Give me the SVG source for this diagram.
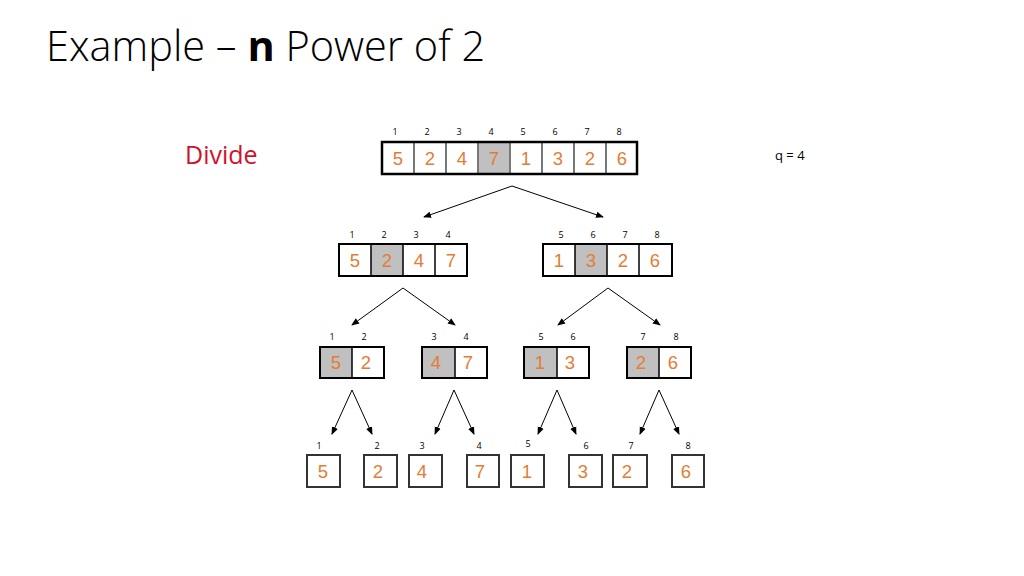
<svg xmlns="http://www.w3.org/2000/svg" width="1024" height="576" viewBox="0 0 1024 576">
<defs>
<marker id="ah" markerWidth="8" markerHeight="8" refX="7" refY="4" orient="auto" markerUnits="userSpaceOnUse">
<path d="M0,0.8 L8,4 L0,7.2 Z" fill="#000"/>
</marker>
<style>
.title{font-family:"Open Sans","Liberation Sans",sans-serif;font-weight:300;font-size:41.5px;fill:#000}
.tb{font-family:"Open Sans","Liberation Sans",sans-serif;font-weight:700}
.idx{font-family:"Open Sans","Liberation Sans",sans-serif;font-size:9px;fill:#000;text-anchor:middle}
.dg{font-family:"Liberation Sans",Arial,sans-serif;font-size:18.5px;fill:#E47C35;text-anchor:middle}
.gray{fill:#C0C0C0}
.outer{fill:none;stroke:#000;stroke-width:2}
.sq{fill:#fff;stroke:#333;stroke-width:2}
.conn line{stroke:#000;stroke-width:1;marker-end:url(#ah)}
</style>
</defs>
<rect width="1024" height="576" fill="#fff"/>
<g id="title"><text class="title" x="46" y="61">Example – <tspan class="tb">n</tspan> Power of 2</text></g>
<g id="divide"><text x="185" y="164" font-family="'Open Sans','Liberation Sans',sans-serif" font-size="25" fill="#D0112B">Divide</text></g>
<g id="q"><text x="775" y="160" font-family="'Open Sans','Liberation Sans',sans-serif" font-size="13" fill="#000">q = 4</text></g>

<g id="level0">
<rect x="382" y="142" width="255" height="32" fill="#fff"/>
<rect x="478" y="142" width="32" height="32" class="gray"/>
<g stroke="#777" stroke-width="2">
<line x1="414" y1="142" x2="414" y2="174"/><line x1="446" y1="142" x2="446" y2="174"/><line x1="478" y1="142" x2="478" y2="174"/><line x1="510" y1="142" x2="510" y2="174"/><line x1="542" y1="142" x2="542" y2="174"/><line x1="574" y1="142" x2="574" y2="174"/><line x1="606" y1="142" x2="606" y2="174"/>
</g>
<rect x="382" y="142" width="255" height="32" fill="none" stroke="#000" stroke-width="2.5"/>
<text class="idx" x="395" y="135">1</text><text class="idx" x="427" y="135">2</text><text class="idx" x="459" y="135">3</text><text class="idx" x="491" y="135">4</text><text class="idx" x="523" y="135">5</text><text class="idx" x="555" y="135">6</text><text class="idx" x="587" y="135">7</text><text class="idx" x="619" y="135">8</text>
<text class="dg" x="398" y="165">5</text><text class="dg" x="430" y="165">2</text><text class="dg" x="462" y="165">4</text><text class="dg" x="494" y="165">7</text><text class="dg" x="526" y="165">1</text><text class="dg" x="558" y="165">3</text><text class="dg" x="590" y="165">2</text><text class="dg" x="622" y="165">6</text>
</g>

<g id="level1-left">
<rect x="339" y="244" width="128" height="32" fill="#fff"/>
<rect x="371" y="244" width="32" height="32" class="gray"/>
<g stroke="#000" stroke-width="1.5"><line x1="371" y1="244" x2="371" y2="276"/><line x1="403" y1="244" x2="403" y2="276"/><line x1="435" y1="244" x2="435" y2="276"/></g>
<rect x="339" y="244" width="128" height="32" class="outer"/>
<text class="idx" x="352" y="238">1</text><text class="idx" x="384" y="238">2</text><text class="idx" x="416" y="238">3</text><text class="idx" x="448" y="238">4</text>
<text class="dg" x="355" y="267">5</text><text class="dg" x="387" y="267">2</text><text class="dg" x="419" y="267">4</text><text class="dg" x="451" y="267">7</text>
</g>
<g id="level1-right">
<rect x="543" y="244" width="129" height="32" fill="#fff"/>
<rect x="575" y="244" width="32" height="32" class="gray"/>
<g stroke="#000" stroke-width="1.5"><line x1="575" y1="244" x2="575" y2="276"/><line x1="607" y1="244" x2="607" y2="276"/><line x1="639" y1="244" x2="639" y2="276"/></g>
<rect x="543" y="244" width="129" height="32" class="outer"/>
<text class="idx" x="561" y="238">5</text><text class="idx" x="593" y="238">6</text><text class="idx" x="625" y="238">7</text><text class="idx" x="657" y="238">8</text>
<text class="dg" x="559" y="267">1</text><text class="dg" x="591" y="267">3</text><text class="dg" x="623" y="267">2</text><text class="dg" x="655" y="267">6</text>
</g>

<g id="level2-a">
<rect x="320" y="347" width="32" height="31" class="gray"/><rect x="352" y="347" width="32" height="31" fill="#fff"/>
<line x1="352" y1="347" x2="352" y2="378" stroke="#000" stroke-width="1.5"/>
<rect x="320" y="347" width="64" height="31" class="outer"/>
<text class="idx" x="332" y="340">1</text><text class="idx" x="364" y="340">2</text>
<text class="dg" x="336" y="369">5</text><text class="dg" x="366" y="369">2</text>
</g>
<g id="level2-b">
<rect x="422" y="347" width="33" height="31" class="gray"/><rect x="455" y="347" width="32" height="31" fill="#fff"/>
<line x1="455" y1="347" x2="455" y2="378" stroke="#000" stroke-width="1.5"/>
<rect x="422" y="347" width="65" height="31" class="outer"/>
<text class="idx" x="434" y="340">3</text><text class="idx" x="466" y="340">4</text>
<text class="dg" x="436" y="369">4</text><text class="dg" x="468" y="369">7</text>
</g>
<g id="level2-c">
<rect x="524" y="347" width="33" height="31" class="gray"/><rect x="557" y="347" width="32" height="31" fill="#fff"/>
<line x1="557" y1="347" x2="557" y2="378" stroke="#000" stroke-width="1.5"/>
<rect x="524" y="347" width="65" height="31" class="outer"/>
<text class="idx" x="541" y="340">5</text><text class="idx" x="573" y="340">6</text>
<text class="dg" x="540" y="369">1</text><text class="dg" x="570" y="369">3</text>
</g>
<g id="level2-d">
<rect x="627" y="347" width="32" height="31" class="gray"/><rect x="659" y="347" width="32" height="31" fill="#fff"/>
<line x1="659" y1="347" x2="659" y2="378" stroke="#000" stroke-width="1.5"/>
<rect x="627" y="347" width="64" height="31" class="outer"/>
<text class="idx" x="643" y="340">7</text><text class="idx" x="676" y="340">8</text>
<text class="dg" x="641" y="369">2</text><text class="dg" x="673" y="369">6</text>
</g>

<g id="level3">
<g id="leaf1"><rect x="307" y="455" width="33" height="32" class="sq"/><text class="idx" x="319" y="449">1</text><text class="dg" x="323" y="478">5</text></g>
<g id="leaf2"><rect x="364" y="455" width="33" height="32" class="sq"/><text class="idx" x="377" y="449">2</text><text class="dg" x="378" y="478">2</text></g>
<g id="leaf3"><rect x="409" y="455" width="33" height="32" class="sq"/><text class="idx" x="422" y="449">3</text><text class="dg" x="422" y="478">4</text></g>
<g id="leaf4"><rect x="467" y="455" width="32" height="32" class="sq"/><text class="idx" x="479" y="449">4</text><text class="dg" x="480" y="478">7</text></g>
<g id="leaf5"><rect x="511" y="455" width="33" height="32" class="sq"/><text class="idx" x="528" y="447">5</text><text class="dg" x="527" y="478">1</text></g>
<g id="leaf6"><rect x="569" y="455" width="33" height="32" class="sq"/><text class="idx" x="586" y="449">6</text><text class="dg" x="583" y="478">3</text></g>
<g id="leaf7"><rect x="613" y="455" width="34" height="32" class="sq"/><text class="idx" x="631" y="449">7</text><text class="dg" x="627" y="478">2</text></g>
<g id="leaf8"><rect x="672" y="455" width="32" height="32" class="sq"/><text class="idx" x="688" y="449">8</text><text class="dg" x="686" y="478">6</text></g>
</g>

<g id="connectors" class="conn">
<line x1="512" y1="186" x2="424" y2="217"/>
<line x1="512" y1="186" x2="603" y2="217"/>
<line x1="403" y1="288" x2="352" y2="325"/>
<line x1="403" y1="288" x2="455" y2="325"/>
<line x1="608" y1="288" x2="558" y2="325"/>
<line x1="608" y1="288" x2="660" y2="325"/>
<line x1="352" y1="390" x2="332" y2="434"/>
<line x1="352" y1="390" x2="372" y2="434"/>
<line x1="454" y1="390" x2="435" y2="434"/>
<line x1="454" y1="390" x2="474" y2="434"/>
<line x1="557" y1="390" x2="538" y2="434"/>
<line x1="557" y1="390" x2="576" y2="434"/>
<line x1="659" y1="390" x2="640" y2="434"/>
<line x1="659" y1="390" x2="679" y2="434"/>
</g>
</svg>
